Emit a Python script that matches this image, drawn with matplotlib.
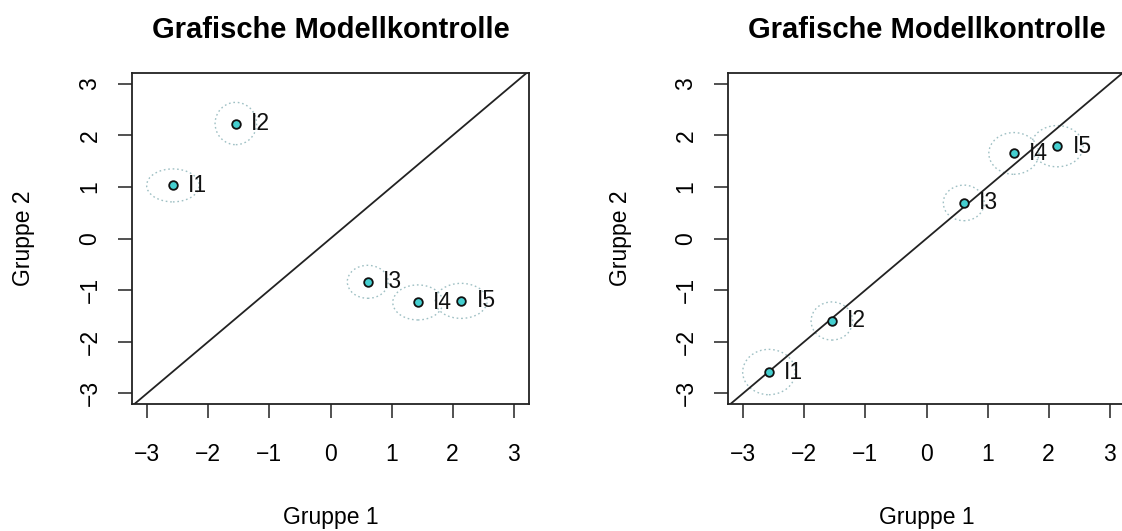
import matplotlib
matplotlib.use("Agg")
import matplotlib.pyplot as plt
from matplotlib.patches import Ellipse

plt.rcParams['font.family'] = ['Liberation Sans', 'DejaVu Sans']

# Item parameters estimated in the two groups
items = ['I1', 'I2', 'I3', 'I4', 'I5']
gruppe1 = [-2.58, -1.55, 0.61, 1.43, 2.14]
gruppe2_links = [1.03, 2.23, -0.84, -1.24, -1.21]
gruppe2_rechts = [-2.59, -1.60, 0.69, 1.65, 1.79]

# Confidence ellipse diameters (x: group 1, y: group 2)
ell_breite = [0.86, 0.68, 0.67, 0.82, 0.85]
ell_hoehe_links = [0.64, 0.82, 0.64, 0.68, 0.68]
ell_hoehe_rechts = [0.88, 0.74, 0.69, 0.81, 0.80]

ticks = [-3, -2, -1, 0, 1, 2, 3]
titel = 'Grafische Modellkontrolle'

W, H = 1122, 531
fig = plt.figure(figsize=(W / 100, H / 100), dpi=100)


def fmt(t):
    return f'\u2212{abs(t)}' if t < 0 else str(t)


def panel(left_px, yvals, heights):
    ax = fig.add_axes([left_px / W, 1 - 404 / H, 397 / W, 331 / H])
    ax.set_xlim(-3.25, 3.25)
    ax.set_ylim(-3.21, 3.21)
    ax.axline((0, 0), slope=1, color='#222222', lw=1.3, zorder=2)
    for x, y, w, h in zip(gruppe1, yvals, ell_breite, heights):
        ax.add_patch(Ellipse((x, y), w, h, fill=False, ls=(0, (1.2, 2.0)),
                             lw=1.0, ec='#9fc0c4', zorder=1))
    ax.plot(gruppe1, yvals, 'o', ms=6.2, mfc='#45cfd0', mec='#111111',
            mew=1.3, zorder=3)
    for x, y, lab in zip(gruppe1, yvals, items):
        ax.annotate(lab, (x, y), xytext=(11, 0), textcoords='offset points',
                    va='center', ha='left', fontsize=16.5, color='#111111')
    ax.set_xticks(ticks)
    ax.set_yticks(ticks)
    ax.set_xticklabels([fmt(t) for t in ticks])
    ax.set_yticklabels([fmt(t) for t in ticks])
    ax.tick_params(axis='both', direction='out', length=10, width=1.1,
                   labelsize=16.5, color='#222222')
    ax.tick_params(axis='x', pad=18)
    ax.tick_params(axis='y', pad=12, labelrotation=90)
    for lab in ax.get_yticklabels():
        lab.set_va('center')
    for s in ax.spines.values():
        s.set_linewidth(1.3)
        s.set_color('#222222')
    ax.set_title(titel, fontsize=21, fontweight='bold', pad=25)
    ax.set_xlabel('Gruppe 1', fontsize=16.5)
    ax.xaxis.set_label_coords(0.5, (404 - 524) / 331)
    ax.xaxis.label.set_va('baseline')
    ax.set_ylabel('Gruppe 2', fontsize=16.5)
    ax.yaxis.set_label_coords(-108 / 397, 0.5)
    ax.yaxis.label.set_va('center')
    return ax


panel(132, gruppe2_links, ell_hoehe_links)
panel(728, gruppe2_rechts, ell_hoehe_rechts)

fig.savefig('out.png', dpi=100)
